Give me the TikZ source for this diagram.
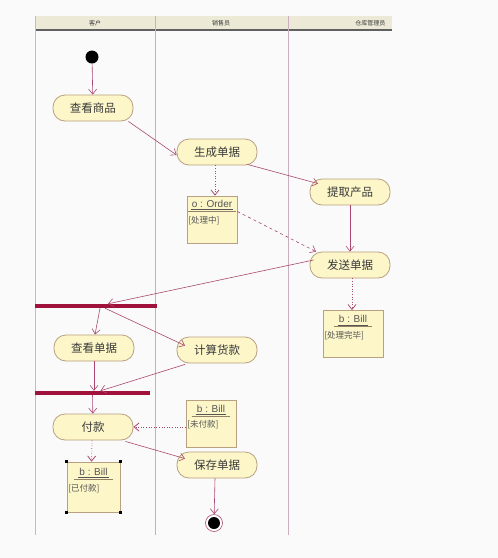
\documentclass[tikz,border=0pt]{standalone}
\usepackage{fontspec}
\setmainfont{Liberation Sans}
\newfontfamily\cjk{Noto Sans CJK SC}
\usetikzlibrary{arrows.meta,positioning}
\definecolor{flow}{HTML}{A84870}
\definecolor{nodebd}{HTML}{B8A080}
\definecolor{nodefill}{HTML}{FCF6C8}
\definecolor{barc}{HTML}{A0123C}
\definecolor{hdr}{HTML}{ECE9D6}
\definecolor{lane}{HTML}{C9AEBD}
\definecolor{txt}{HTML}{3A3A3A}
\definecolor{objtxt}{HTML}{555555}
\tikzset{
  act/.style={draw=nodebd, fill=nodefill, line width=0.8pt, rounded corners=12pt,
    minimum width=80pt, minimum height=26pt, inner sep=0pt, font=\cjk\fontsize{11.5}{11.5}\selectfont, text=txt},
  objbox/.style={draw=nodebd, fill=nodefill, line width=0.8pt, minimum width=50pt, minimum height=47pt, inner sep=0pt},
  objname/.style={font=\fontsize{10}{10}\selectfont, text=objtxt, inner sep=1pt},
  objstate/.style={font=\cjk\fontsize{8.5}{8.5}\selectfont, text=objtxt, inner sep=1pt},
  flowarrow/.style={draw=flow, line width=0.6pt, -{Straight Barb[length=5pt,width=8pt]}},
  objarrow/.style={flowarrow, dotted, line width=0.8pt},
  syncbar/.style={fill=barc, draw=none, inner sep=0pt, minimum height=4pt},
  handle/.style={fill=black, draw=none, minimum size=3.5pt, inner sep=0pt},
  hdrtext/.style={font=\cjk\fontsize{6}{6}\selectfont, text=txt}
}
\begin{document}
\begin{tikzpicture}[x=1pt,y=-1pt]
\fill[gray!4] (0,0) rectangle (498,558);
\useasboundingbox (0,0) rectangle (498,558);
% header
\fill[hdr] (35,16) rectangle (392,30);
\draw[gray!75!black, line width=1.6pt] (35,30) -- (392,30);
\node[hdrtext] (h1) at (95,23) {客户};
\node[hdrtext] (h2) at (221,23) {销售员};
\node[hdrtext, anchor=east] (h3) at (389,23) {仓库管理员};
% lanes
\draw[gray!50, line width=0.9pt] (35,16) -- (35,535);
\draw[lane, line width=0.9pt] (155,16) -- (155,535);
\draw[lane, line width=0.9pt] (288,16) -- (288,535);

% start
\node[circle, fill=black, minimum size=13pt, inner sep=0pt] (start) at (92,57) {};
% activities
\node[act] (ckSP) at (93,108) {查看商品};
\node[act] (scDJ) at (217,152) {生成单据};
\node[act] (tqCP) at (350,192) {提取产品};
\node[act] (fsDJ) at (350,265) {发送单据};
\node[act] (ckDJ) at (94,348) {查看单据};
\node[act] (jsHK) at (217,350) {计算货款};
\node[act] (fk) at (93,427) {付款};
\node[act] (bcDJ) at (217,465) {保存单据};
% end
\node[circle, draw=flow, fill=white, line width=0.6pt, minimum size=17pt, inner sep=0pt] (endo) at (214,523) {};
\node[circle, fill=black, minimum size=12pt, inner sep=0pt] (endi) at (214,523) {};

% bars
\node[syncbar, minimum width=122pt] (fork) at (96,306) {};
\node[syncbar, minimum width=115pt] (join) at (92.5,393) {};

% object boxes
\node[objbox] (order) at (212,219.5) {};
\node[objname, anchor=north] (ordern) at ([yshift=-3pt]order.north) {o : Order};
\draw[objtxt, line width=0.4pt] ([yshift=-1pt]ordern.south west) -- ([yshift=-1pt]ordern.south east);
\draw[nodebd!80!black, line width=1pt] ([xshift=-3pt,yshift=-3pt]ordern.south west) -- ([xshift=3pt,yshift=-3pt]ordern.south east);
\node[objstate, anchor=north west] (orders) at ([xshift=0.5pt,yshift=-20pt]order.north west) {[处理中]};

\node[objbox, minimum width=60pt] (bill1) at (353,334) {};
\node[objname, anchor=north] (bill1n) at ([yshift=-4pt]bill1.north) {b : Bill};
\draw[objtxt, line width=0.4pt] ([yshift=-1pt]bill1n.south west) -- ([yshift=-1pt]bill1n.south east);
\draw[nodebd!80!black, line width=1pt] ([xshift=-4pt,yshift=-3pt]bill1n.south west) -- ([xshift=4pt,yshift=-3pt]bill1n.south east);
\node[objstate, anchor=north west] (bill1s) at ([xshift=0.5pt,yshift=-20pt]bill1.north west) {[处理完毕]};

\node[objbox] (bill2) at (211,423.5) {};
\node[objname, anchor=north] (bill2n) at ([yshift=-4pt]bill2.north) {b : Bill};
\draw[objtxt, line width=0.4pt] ([yshift=-1pt]bill2n.south west) -- ([yshift=-1pt]bill2n.south east);
\draw[nodebd!80!black, line width=1pt] ([xshift=-4pt,yshift=-3pt]bill2n.south west) -- ([xshift=4pt,yshift=-3pt]bill2n.south east);
\node[objstate, anchor=north west] (bill2s) at ([xshift=0.5pt,yshift=-20pt]bill2.north west) {[未付款]};

\node[objbox, minimum width=53pt, minimum height=50pt] (bill3) at (93.5,487) {};
\node[objname, anchor=north] (bill3n) at ([yshift=-5pt]bill3.north) {b : Bill};
\draw[objtxt, line width=0.4pt] ([yshift=-1pt]bill3n.south west) -- ([yshift=-1pt]bill3n.south east);
\draw[nodebd!80!black, line width=1pt] ([xshift=-4pt,yshift=-3pt]bill3n.south west) -- ([xshift=4pt,yshift=-3pt]bill3n.south east);
\node[objstate, anchor=north west] (bill3s) at ([xshift=0.5pt,yshift=-22pt]bill3.north west) {[已付款]};
\node[handle] (hnw) at (bill3.north west) {};
\node[handle] (hne) at (bill3.north east) {};
\node[handle] (hsw) at (bill3.south west) {};
\node[handle] (hse) at (bill3.south east) {};

% flows
\draw[flowarrow] (start) -- (ckSP);
\draw[flowarrow] ([xshift=-5pt]ckSP.south east) -- ([yshift=-3pt]scDJ.west);
\draw[objarrow] ([xshift=-2pt]scDJ.south) -- ([xshift=3pt]order.north);
\draw[flowarrow] ([xshift=-10pt,yshift=1pt]scDJ.south east) -- ([xshift=-32pt,yshift=-5pt]tqCP.north);
\draw[flowarrow] (tqCP) -- (fsDJ);
\draw[flowarrow, dashed] ([yshift=8pt]order.east) -- ([xshift=-34pt]fsDJ.north);
\draw[flowarrow] ([xshift=4pt,yshift=5pt]fsDJ.west) -- ([xshift=12pt]fork.north);
\draw[objarrow] ([xshift=2pt]fsDJ.south) -- ([xshift=-1pt]bill1.north);
\draw[flowarrow] ([xshift=4pt]fork.south) -- ([xshift=1pt]ckDJ.north);
\draw[flowarrow] ([xshift=9pt]fork.south) -- ([xshift=-32pt,yshift=-9pt]jsHK.north);
\draw[flowarrow] (ckDJ) -- ([xshift=1.5pt]join.north);
\draw[flowarrow] ([xshift=-32pt,yshift=-1pt]jsHK.south) -- ([xshift=8pt]join.north);
\draw[flowarrow] (join) -- (fk);
\draw[objarrow] (bill2.west |- fk.east) -- (fk.east);
\draw[objarrow] ([xshift=-1pt]fk.south) -- ([xshift=-2pt]bill3.north);
\draw[flowarrow] ([xshift=-8pt,yshift=-1pt]fk.south east) -- ([xshift=-32pt,yshift=-7pt]bcDJ.north);
\draw[flowarrow] ([xshift=-2pt]bcDJ.south) -- (endo);
\end{tikzpicture}
\end{document}
